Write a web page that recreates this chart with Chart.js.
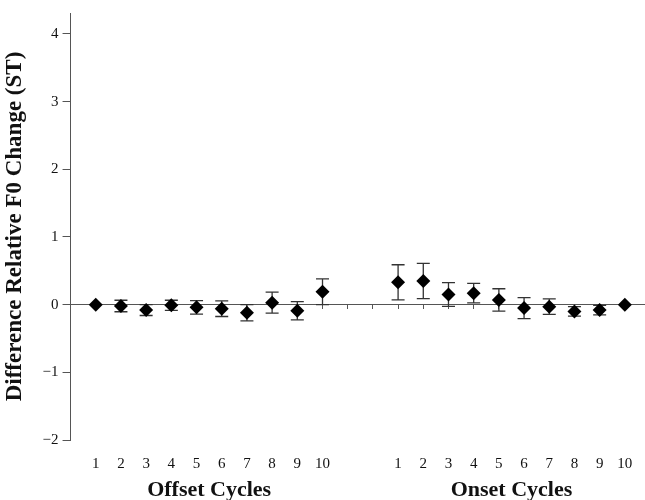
<!DOCTYPE html>
<html>
<head>
<meta charset="utf-8">
<script src="https://cdn.jsdelivr.net/npm/chart.js@4"></script>
<style>
  body { margin: 0; background: #fff; }
  #wrap { width: 645px; height: 500px; position: relative; }
</style>
</head>
<body>
<div id="wrap"><canvas id="f0Chart"></canvas></div>
<script>
// cycle labels for the two groups
const offsetCycles = ['1', '2', '3', '4', '5', '6', '7', '8', '9', '10'];
const onsetCycles = ['1', '2', '3', '4', '5', '6', '7', '8', '9', '10'];

// mean difference (ST) and error bar half-length
const offsetMean = [0.00, -0.02, -0.08, -0.01, -0.04, -0.06, -0.12, 0.03, -0.09, 0.19];
const offsetErr = [0.00, 0.085, 0.08, 0.075, 0.10, 0.115, 0.12, 0.155, 0.135, 0.19];
const onsetMean = [0.33, 0.35, 0.15, 0.17, 0.07, -0.05, -0.03, -0.10, -0.08, 0.00];
const onsetErr = [0.26, 0.26, 0.175, 0.145, 0.165, 0.155, 0.115, 0.07, 0.07, 0.00];

const yTicks = [-2, -1, 0, 1, 2, 3, 4];
const onsetStart = 12; // slot of onset cycle 1 (two empty slots between groups)
const xMin = -1, xMax = 21.8;

const serif = "'Liberation Serif', 'Times New Roman', serif";

const offsetPoints = offsetMean.map((v, i) => ({ x: i, y: v, err: offsetErr[i] }));
const onsetPoints = onsetMean.map((v, i) => ({ x: onsetStart + i, y: v, err: onsetErr[i] }));

const slotLabel = (v) => {
  if (v >= 0 && v < offsetCycles.length) return offsetCycles[v];
  if (v >= onsetStart && v < onsetStart + onsetCycles.length) return onsetCycles[v - onsetStart];
  return '';
};

const errorBars = {
  id: 'errorBars',
  beforeDatasetsDraw(chart) {
    const ctx = chart.ctx;
    const xs = chart.scales.x, ys = chart.scales.y;
    ctx.save();
    ctx.strokeStyle = '#333';
    ctx.lineWidth = 1.3;
    chart.data.datasets.forEach(ds => {
      ds.data.forEach(p => {
        if (!p.err) return;
        const px = xs.getPixelForValue(p.x);
        const top = ys.getPixelForValue(p.y + p.err);
        const bot = ys.getPixelForValue(p.y - p.err);
        ctx.beginPath();
        ctx.moveTo(px, top); ctx.lineTo(px, bot);
        ctx.moveTo(px - 6.5, top); ctx.lineTo(px + 6.5, top);
        ctx.moveTo(px - 6.5, bot); ctx.lineTo(px + 6.5, bot);
        ctx.stroke();
      });
    });
    ctx.restore();
  }
};

const groupTitles = {
  id: 'groupTitles',
  afterDraw(chart) {
    const ctx = chart.ctx;
    const xs = chart.scales.x;
    ctx.save();
    ctx.font = 'bold 22px ' + serif;
    ctx.fillStyle = '#111';
    ctx.textAlign = 'center';
    ctx.textBaseline = 'alphabetic';
    const y = chart.height - 4;
    ctx.fillText('Offset Cycles', xs.getPixelForValue((offsetCycles.length - 1) / 2), y);
    ctx.fillText('Onset Cycles', xs.getPixelForValue(onsetStart + (onsetCycles.length - 1) / 2), y);
    ctx.restore();
  }
};

new Chart(document.getElementById('f0Chart'), {
  type: 'scatter',
  data: {
    datasets: [
      { label: 'Offset', data: offsetPoints, pointStyle: 'rectRot', pointRadius: 7, pointHoverRadius: 7,
        backgroundColor: '#000', borderColor: '#000', borderWidth: 0 },
      { label: 'Onset', data: onsetPoints, pointStyle: 'rectRot', pointRadius: 7, pointHoverRadius: 7,
        backgroundColor: '#000', borderColor: '#000', borderWidth: 0 }
    ]
  },
  options: {
    responsive: true,
    maintainAspectRatio: false,
    animation: false,
    layout: { autoPadding: false, padding: { top: 12, right: 0, bottom: 20, left: 1 } },
    plugins: { legend: { display: false }, tooltip: { enabled: false } },
    scales: {
      x: {
        type: 'linear',
        min: xMin,
        max: xMax,
        afterBuildTicks: (axis) => {
          axis.ticks = [];
          for (let i = 0; i < onsetStart + onsetCycles.length; i++) axis.ticks.push({ value: i });
        },
        grid: { display: false },
        border: { display: false },
        ticks: {
          autoSkip: false, maxRotation: 0, padding: 7,
          color: '#111', font: { family: serif, size: 15 },
          callback: (v) => slotLabel(v)
        }
      },
      xZero: {
        type: 'linear',
        axis: 'x',
        position: { y: 0 },
        min: xMin,
        max: xMax,
        afterBuildTicks: (axis) => {
          axis.ticks = [];
          for (let i = -1; i < onsetStart + onsetCycles.length; i++) axis.ticks.push({ value: i });
        },
        grid: { drawOnChartArea: false, drawTicks: true, tickLength: 4, color: '#555' },
        border: { display: true, color: '#555', width: 1 },
        ticks: { display: false }
      },
      y: {
        min: -2,
        max: 4.31,
        afterBuildTicks: (axis) => { axis.ticks = yTicks.map(v => ({ value: v })); },
        grid: { drawOnChartArea: false, drawTicks: true, tickLength: 8, color: '#555' },
        border: { display: true, color: '#555', width: 1 },
        ticks: {
          padding: 4, color: '#111', font: { family: serif, size: 15 },
          callback: (v) => (v < 0 ? '\u2212' + Math.abs(v) : String(v))
        },
        title: {
          display: true, text: 'Difference Relative F0 Change (ST)',
          color: '#111', font: { family: serif, size: 23, weight: 'bold' }, padding: { top: 0, bottom: 10 }
        }
      }
    }
  },
  plugins: [errorBars, groupTitles]
});
</script>
</body>
</html>
